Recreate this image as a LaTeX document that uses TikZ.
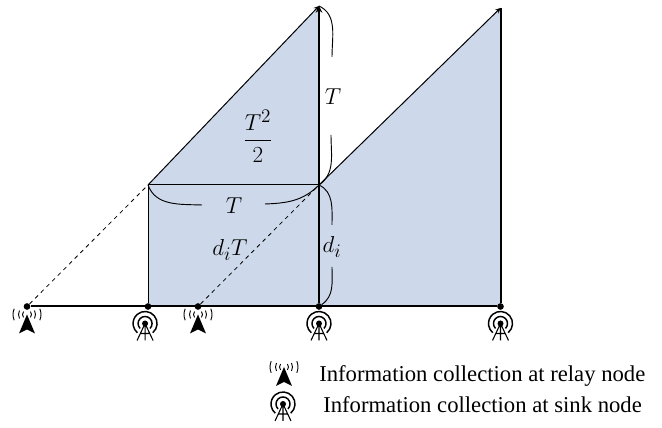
\documentclass[tikz,border=0pt]{standalone}
\usepackage{fontspec}
\setmainfont{Liberation Serif}
\usepackage{amsmath}
\usetikzlibrary{arrows,positioning}
\definecolor{areablue}{HTML}{CDD8EA}
\tikzset{
  dotnode/.style={circle, fill=black, inner sep=0pt, minimum size=5pt},
  thinline/.style={line width=.75pt},
  boldline/.style={line width=1.5pt},
  markarrow/.style={-stealth, line width=.75pt},
  rise/.style={dashed, line width=.6pt},
  span/.style={line width=.7pt},
  mathlabel/.style={font=\fontsize{19}{22}\selectfont, inner sep=1pt},
  legendtext/.style={font=\fontsize{17}{20}\selectfont, anchor=base west, inner sep=0pt},
  relayicon/.pic={
    \fill (0,0) -- (8,-19) -- (0,-15) -- (-8,-19) -- cycle;
    \foreach \r/\a in {14/24, 8.5/28, 4.5/40}{
      \draw[line width=.7pt] (-\a:\r) arc (-\a:\a:\r);
      \draw[line width=.7pt] (180-\a:\r) arc (180-\a:180+\a:\r);
    }
  },
  sinkicon/.pic={
    \fill (0,0) circle (3);
    \draw[line width=1.1pt] (-45:7) arc (-45:225:7);
    \draw[line width=1.1pt] (-50:12) arc (-50:230:12);
    \draw[line width=.8pt] (0,0) -- (-8,-17) (0,0) -- (8,-17) (0,0) -- (0,-17) (-5,-10) -- (5,-10);
  }
}
\begin{document}
\begin{tikzpicture}[x=.75pt,y=.75pt]
	\useasboundingbox (0,0) rectangle (662,428);
	\fill[areablue] (148,121.5) -- (148,243) -- (319,422) -- (319,243) -- (500.5,420) -- (500.5,121.5) -- cycle;
	% points on the time axis
	\node[dotnode] (relayA) at (27,121.5) {};
	\node[dotnode] (sinkA) at (148,121.5) {};
	\node[dotnode] (relayB) at (198,121.5) {};
	\node[dotnode] (sinkB) at (319,121.5) {};
	\node[dotnode] (sinkC) at (500.5,121.5) {};
	\coordinate (left) at (148,243);
	\coordinate (mid) at (319,243);
	\coordinate (peakA) at (319,422);
	\coordinate (peakB) at (500.5,420);
	% axis and walls
	\draw[boldline] (relayA) -- (sinkC);
	\draw[thinline] (sinkA) -- (left) -- (mid);
	\draw[boldline] (sinkB) -- (mid);
	\draw[boldline] (sinkC) -- (peakB);
	\draw[markarrow] (left) -- (peakA);
	\draw[markarrow, line width=1.2pt] (mid) -- (peakA);
	\draw[markarrow] (mid) -- (peakB);
	\draw[rise] (relayA) -- (left);
	\draw[rise] (relayB) -- (mid);
	% labels
	\node[mathlabel] (area) at (258,292) {$\genfrac{}{}{1.2pt}{0}{T^2}{2}$};
	\node[mathlabel] (widthT) at (234,222) {$T$};
	\node[mathlabel] (heightT) at (333,331) {$T$};
	\node[mathlabel] (frac) at (230,178) {$d_iT$};
	\node[mathlabel] (gap) at (332,181) {$d_i$};
	% spans broken around the labels
	\coordinate (widthL) at (202,223);
	\coordinate (widthR) at (265,224);
	\coordinate (heightU) at (332,371);
	\coordinate (heightD) at (331,293);
	\coordinate (gapU) at (332,203);
	\coordinate (gapD) at (332,161);
	\draw[span] (left) to[out=-70, in=178] (widthL);
	\draw[span] (widthR) to[out=2, in=-135] (mid);
	\draw[span] (peakA) to[out=-25, in=90] (heightU);
	\draw[span] (heightD) to[out=-90, in=35] (mid);
	\draw[span] (mid) to[out=-25, in=90] (gapU);
	\draw[span] (gapD) to[out=-90, in=35] (sinkB);
	% icons
	\pic at ([yshift=-6pt]relayA) {relayicon};
	\pic at ([yshift=-6pt]relayB) {relayicon};
	\pic at ([xshift=-2.2pt,yshift=-12.75pt]sinkA) {sinkicon};
	\pic at ([yshift=-12.75pt]sinkB) {sinkicon};
	\pic at ([yshift=-12.75pt]sinkC) {sinkicon};
	% legend
	\pic at (284,61) {relayicon};
	\pic at (283,24) {sinkicon};
	\node[legendtext] (relaytext) at (319,46) {Information collection at relay node};
	\node[legendtext] (sinktext) at (323,15) {Information collection at sink node};
\end{tikzpicture}
\end{document}
